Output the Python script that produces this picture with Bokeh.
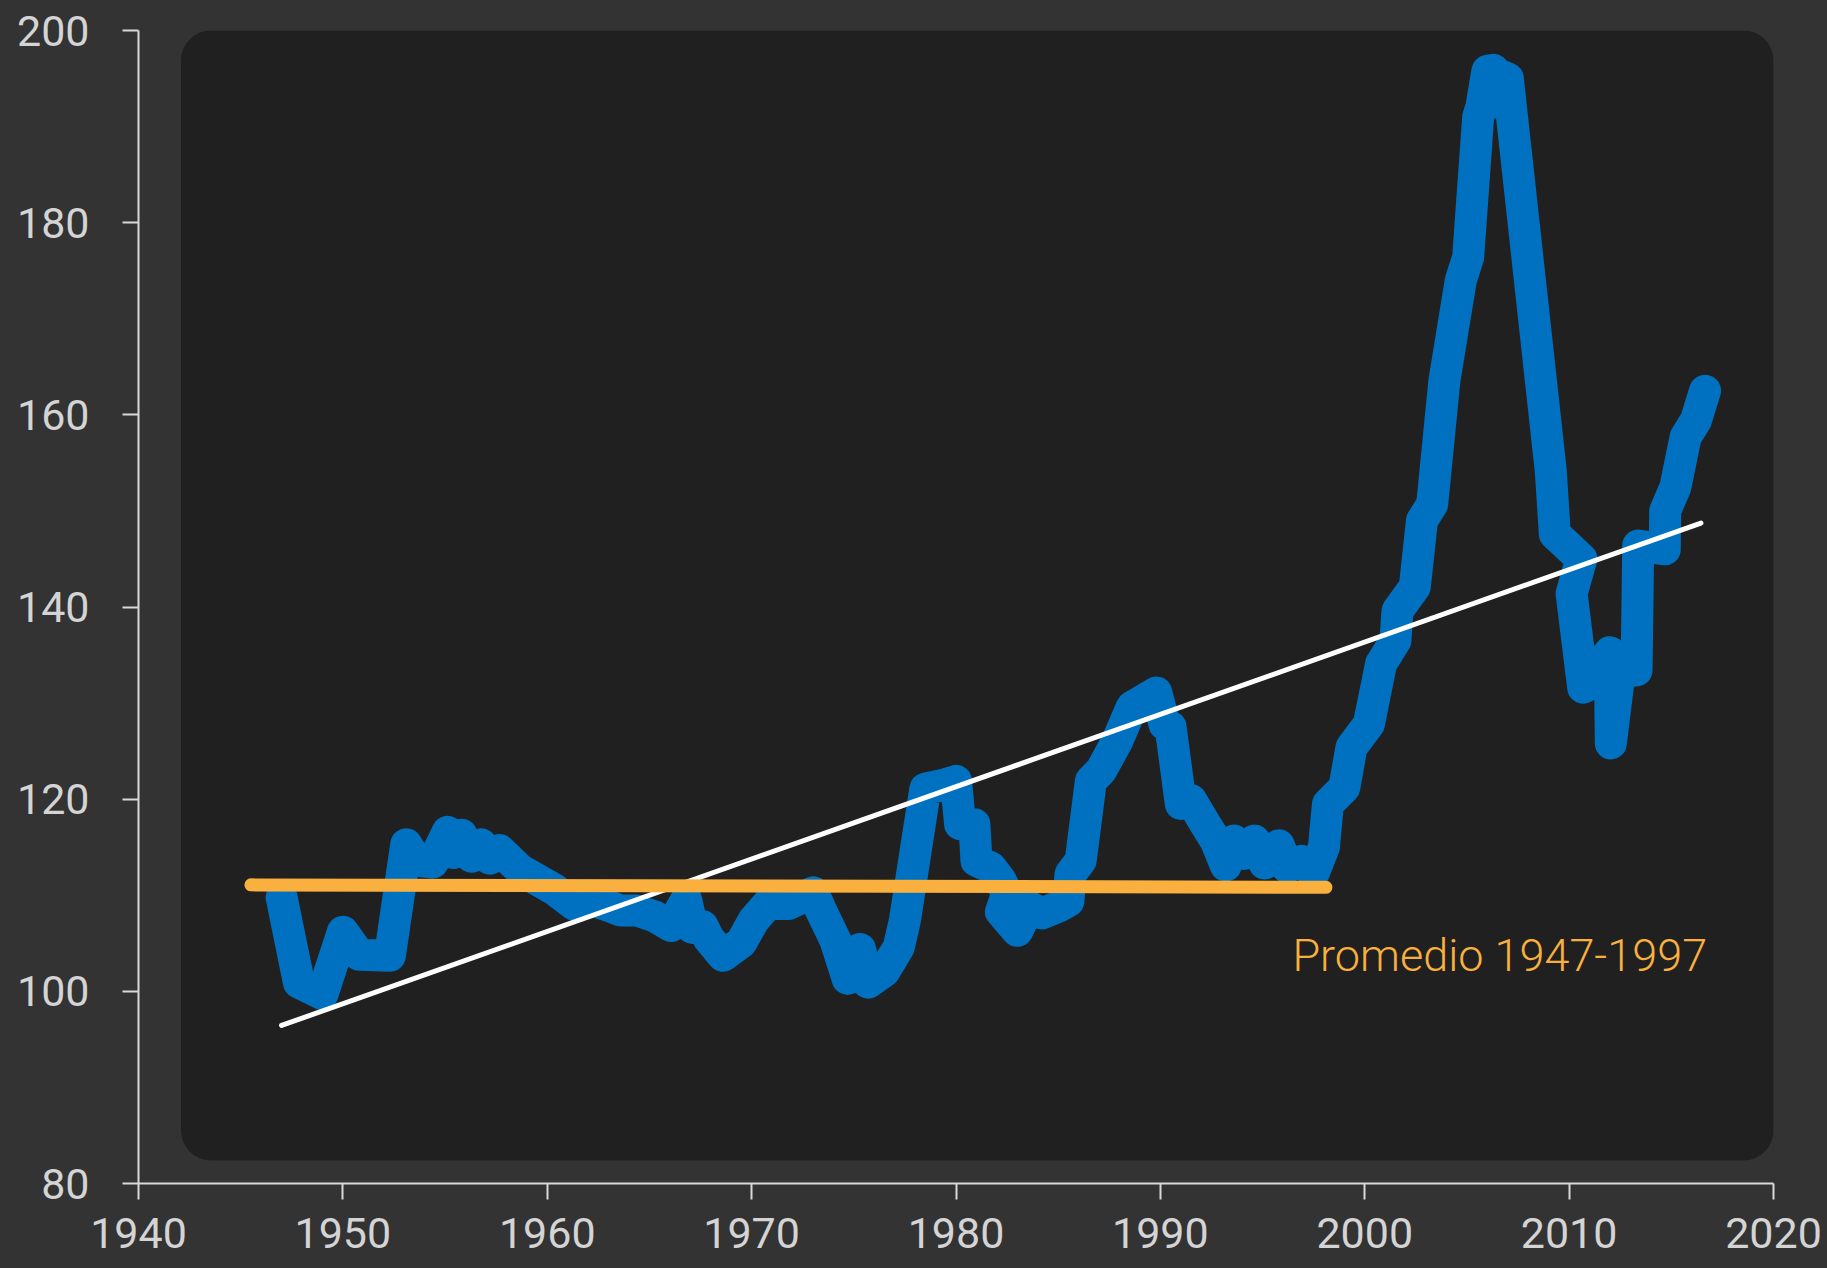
from bokeh.plotting import figure
from bokeh.models import BoxAnnotation, FixedTicker, Range1d, GlobalInlineStyleSheet
from bokeh.core.properties import value
from bokeh.embed import file_html
from bokeh.resources import INLINE

# ---- data ----
years = [1947.0, 1947.85, 1949.0, 1950.0, 1950.8, 1952.3, 1953.1, 1953.6, 1954.4,
         1955.13, 1955.4, 1955.8, 1956.3, 1956.76, 1957.2, 1957.66, 1958.7, 1960.35,
         1961.33, 1962.3, 1963.0, 1963.6, 1964.4, 1965.25, 1966.07, 1966.8, 1967.1,
         1967.6, 1967.9, 1968.6, 1969.5, 1970.1, 1970.8, 1971.8, 1973.0, 1973.4,
         1974.1, 1974.7, 1975.3, 1975.7, 1976.5, 1977.2, 1977.5, 1978.5, 1979.4,
         1980.0, 1980.2, 1980.9, 1981.0, 1981.7, 1982.2, 1982.5, 1982.2, 1983.0,
         1983.6, 1984.2, 1985.0, 1985.5, 1985.6, 1986.1, 1986.6, 1987.1, 1987.9,
         1988.6, 1989.8, 1990.2, 1990.5, 1991.0, 1991.5, 1992.2, 1992.7, 1993.2,
         1993.6, 1994.1, 1994.6, 1995.1, 1995.8, 1996.2, 1996.9, 1997.5, 1998.0,
         1998.2, 1999.0, 1999.35, 2000.2, 2000.8, 2001.5, 2001.6, 2002.45, 2002.8,
         2003.3, 2003.9, 2004.7, 2005.06, 2005.55, 2005.7, 2006.0, 2006.3, 2006.45,
         2006.8, 2007.0, 2009.1, 2009.3, 2010.6, 2010.12, 2010.69, 2011.99, 2012.04,
         2012.56, 2013.3, 2013.38, 2014.68, 2014.7, 2015.2, 2015.7, 2016.2, 2016.65]
index_values = [109.8, 100.9, 99.7, 106.2, 103.8, 103.7, 115.3, 113.6, 113.4,
                116.6, 114.4, 116.3, 114.0, 115.3, 113.8, 114.7, 112.6, 110.6,
                109.0, 109.4, 108.9, 108.4, 108.4, 107.8, 106.8, 109.5, 106.6,
                106.8, 105.5, 103.7, 105.1, 107.4, 109.1, 109.1, 110.3, 108.4,
                105.3, 101.3, 104.4, 100.9, 102.1, 104.6, 107.4, 121.1, 121.5,
                121.9, 117.4, 117.4, 113.6, 112.9, 111.5, 110.1, 108.3, 106.3,
                108.8, 108.1, 108.8, 109.4, 112.2, 113.6, 121.9, 123.0, 126.1,
                129.6, 131.1, 127.8, 127.5, 119.5, 119.9, 117.4, 115.7, 113.1,
                115.7, 114.3, 115.7, 113.3, 115.2, 112.9, 113.6, 112.3, 115.0,
                119.5, 121.2, 125.4, 127.8, 134.1, 136.5, 139.6, 142.1, 149.0,
                150.7, 163.6, 174.0, 176.4, 191.0, 192.0, 195.8, 195.9, 192.5,
                195.2, 195.0, 154.2, 147.6, 145.0, 141.4, 131.6, 135.3, 125.8,
                134.8, 133.4, 146.4, 146.0, 150.0, 152.5, 157.7, 159.4, 162.5]

avg_years = [1945.5, 1998.1]
avg_values = [111.08, 110.83]
avg_label = "Promedio 1947-1997"

trend_years = [1947.0, 2016.45]
trend_values = [96.45, 148.74]

x_ticks = [1940, 1950, 1960, 1970, 1980, 1990, 2000, 2010, 2020]
y_ticks = [80, 100, 120, 140, 160, 180, 200]

BG = "#333333"
PANEL = "#202020"
BLUE = "#0070C0"
ORANGE = "#F9B03E"
AXIS = "#d9d9d9"
LABEL = "#d4d4d4"

p = figure(width=1827, height=1268,
           x_range=Range1d(1940, 2020), y_range=Range1d(80, 200),
           output_backend="svg", toolbar_location=None,
           min_border_left=138, min_border_right=54,
           min_border_top=30, min_border_bottom=85,
           background_fill_color=BG, border_fill_color=BG,
           outline_line_color=None)
p.stylesheets = [GlobalInlineStyleSheet(css="body { background-color: #333333; }")]

p.add_layout(BoxAnnotation(left=1942.08, right=2020, bottom=82.4, top=200,
                           fill_color=PANEL, fill_alpha=1.0, line_color=None,
                           border_radius=30, level="underlay"))

p.xgrid.visible = False
p.ygrid.visible = False
p.xaxis.ticker = FixedTicker(ticks=x_ticks)
p.yaxis.ticker = FixedTicker(ticks=y_ticks)
for ax in (p.xaxis[0], p.yaxis[0]):
    ax.axis_line_color = AXIS
    ax.axis_line_width = 2
    ax.major_tick_line_color = AXIS
    ax.major_tick_line_width = 2
    ax.major_tick_out = 16
    ax.major_tick_in = 0
    ax.minor_tick_out = 0
    ax.minor_tick_in = 0
    ax.major_label_text_font = "Roboto"
    ax.major_label_text_font_size = "43px"
    ax.major_label_text_color = LABEL
p.yaxis.major_label_standoff = 33
p.xaxis.major_label_standoff = 18

p.line(years, index_values, line_color=BLUE, line_width=32,
       line_join="round", line_cap="round")
p.line(trend_years, trend_values, line_color="white", line_width=5,
       line_cap="round")
p.line(avg_years, avg_values, line_color=ORANGE, line_width=13,
       line_cap="round")
p.text(x=[1996.46], y=[103.73], text=[avg_label],
       text_font=value("Roboto Light"), text_font_size="45px",
       text_color=ORANGE, text_baseline="alphabetic", text_align="left")

open("out.html", "w").write(file_html(p, INLINE))
